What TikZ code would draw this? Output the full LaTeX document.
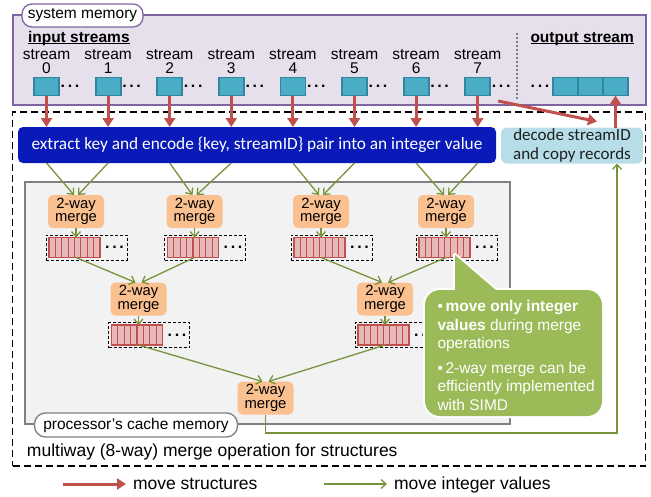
\documentclass[tikz,border=0pt]{standalone}
\usepackage{fontspec}
\setmainfont{Liberation Sans}
\newfontfamily\calibfont{Carlito}
\usetikzlibrary{arrows.meta,calc}

\definecolor{memfill}{HTML}{E5E0EC}
\definecolor{memline}{HTML}{8064A2}
\definecolor{strfill}{HTML}{4BACC6}
\definecolor{strline}{HTML}{31859C}
\definecolor{redarr}{HTML}{C0504D}
\definecolor{greenarr}{HTML}{77933C}
\definecolor{bluebar}{HTML}{0A1AB8}
\definecolor{decfill}{HTML}{B7DEE8}
\definecolor{mergefill}{HTML}{FAC090}
\definecolor{cellfill}{HTML}{E6B9B8}
\definecolor{cachefill}{HTML}{F2F2F2}
\definecolor{cacheline}{HTML}{808080}
\definecolor{callfill}{HTML}{9BBB59}

\newcommand\fsz[2]{\fontsize{#1}{#2}\selectfont}
\newcommand\tridots{\textbf{.\hspace{2.6pt}.\hspace{2.6pt}.}}
\newcommand\ulbold[1]{\setbox0=\hbox{\bfseries #1}\rlap{\rule[-1.8pt]{\wd0}{1.1pt}}\box0}

\tikzset{
  every node/.style={inner sep=0pt, outer sep=0pt},
  structarrow/.style={draw=redarr, line width=3pt, -{Triangle[length=9pt,width=11pt]}},
  intarrow/.style={draw=greenarr, line width=1.3pt, -{Straight Barb[length=5pt,width=9pt,line width=1.3pt]}},
  memframe/.style={draw=memline, fill=memfill, line width=1.5pt},
  memlabel/.style={draw=memline, fill=white, line width=1.3pt, rounded corners=10pt, font=\fsz{15.5}{15.5}},
  streamcell/.style={draw=strline, fill=strfill, line width=1.8pt, minimum width=25pt, minimum height=18pt},
  streamlabel/.style={align=center, anchor=north, font=\fsz{15.5}{14}},
  dotsnode/.style={font=\fsz{16}{16}},
  heading/.style={anchor=base west, font=\fsz{15.5}{15.5}},
  sepline/.style={draw=gray, line width=1.2pt, dash pattern=on 1.5pt off 2.5pt},
  bigframe/.style={draw=black, line width=1.6pt, dash pattern=on 7pt off 4pt},
  encodebar/.style={fill=bluebar, rounded corners=5pt, text=white, font=\calibfont\fsz{17.3}{20}},
  decodebox/.style={fill=decfill, rounded corners=6pt, text=black!88, align=center, font=\calibfont\fsz{17}{18.5}},
  cachebox/.style={draw=cacheline, fill=cachefill, line width=1.8pt},
  cachelabel/.style={draw=cacheline, fill=white, line width=1.3pt, rounded corners=11pt, font=\fsz{15.5}{15.5}},
  mergebox/.style={fill=mergefill, rounded corners=5pt, minimum width=56pt, minimum height=33pt, align=center, font=\fsz{14.8}{13.6}},
  bufbox/.style={draw=black, line width=0.8pt, dash pattern=on 3pt off 2pt, minimum width=81pt, minimum height=25pt},
  cellstrip/.style={draw=redarr, fill=cellfill, line width=1.2pt, minimum width=51pt, minimum height=20pt},
  cellsep/.style={draw=redarr, line width=1.2pt},
  callshape/.style={fill=callfill},
  callrim/.style={draw=white, line width=4pt, line join=round},
  callouttext/.style={anchor=north west, align=left, text=white, font=\fsz{15.5}{18.5}},
  plaintext/.style={anchor=base west},
}

\begin{document}
\begin{tikzpicture}[x=1pt, y=-1pt]
\useasboundingbox (0,0) rectangle (651,496);

% system memory with the input and output streams
\node[memframe, minimum width=633pt, minimum height=90pt] (sysmem) at (329.5,60) {};
\node[memlabel, minimum width=121pt, minimum height=23pt] (syslbl) at (82.5,15.5) {system memory};
\node[heading] (instr) at (28,42) {\ulbold{input streams}};
\node[heading] (outstr) at (530.5,42) {\ulbold{output stream}};
\draw[sepline] (517,33) -- (517,100);

% the merge operation frame
\node[bigframe, minimum width=633pt, minimum height=354pt] (frame) at (329,289) {};

\foreach \i in {0,...,7}{
  \node[streamcell] (s\i) at ({46.5+61.6*\i},86.5) {};
  \node[streamlabel] (sl\i) at ({46.5+61.6*\i},49.5) {stream\\\i};
  \node[dotsnode] (sd\i) at ({70+61.6*\i},86) {\tridots};
}

\node[dotsnode] (od) at (540,86) {\tridots};
\node[streamcell] (o1) at (565.5,86.5) {};
\node[streamcell] (o2) at (590.5,86.5) {};
\node[streamcell] (o3) at (615.5,86.5) {};

% encoding and decoding stages
\node[encodebar, minimum width=478pt, minimum height=36pt] (bar) at (257,145)
  {extract key and encode \{key, streamID\} pair into an integer value};
\node[decodebox, minimum width=142pt, minimum height=36pt] (dec) at (572,145.5)
  {decode streamID\\and copy records};

\foreach \i in {0,...,7}
  \draw[structarrow] (s\i.south) -- (s\i.south |- bar.north);

\coordinate (recstart) at ($(s7.south east)+(8,5.5)$);
\coordinate (recend) at ($(dec.north)+(25,-6)$);
\draw[structarrow] (recstart) -- (recend);
\draw[structarrow] (dec.north -| o3.south) -- (o3.south);

% cache area with the tree of 2-way merges
\node[cachebox, minimum width=485pt, minimum height=242pt] (cache) at (267.5,303.2) {};
\node[cachelabel, minimum width=203pt, minimum height=24pt] (cachelbl) at (136,425) {processor’s cache memory};

\node[mergebox] (mA) at (76,211.5) {2-way\\merge};
\node[mergebox] (mB) at (194.5,211.5) {2-way\\merge};
\node[mergebox] (mC) at (321,211.5) {2-way\\merge};
\node[mergebox] (mD) at (446,211.5) {2-way\\merge};
\node[mergebox] (mE) at (138.5,299) {2-way\\merge};
\node[mergebox] (mF) at (385,299) {2-way\\merge};
\node[mergebox] (mG) at (265.5,398) {2-way\\merge};

\foreach \i/\m/\o in {0/mA/-2,1/mA/2,2/mB/-2,3/mB/2,4/mC/-2,5/mC/2,6/mD/-2,7/mD/2}
  \draw[intarrow] (s\i |- bar.south) -- ($(\m.north)+(\o,0)$);

\foreach \m in {mA,mB,mC,mD,mE,mF}{
  \node[bufbox] (\m-buf) at ($(\m.south)+(10.5,19.5)$) {};
  \node[cellstrip] (\m-strip) at ($(\m.south)+(-1.5,19.5)$) {};
  \foreach \k in {1,...,7}
    \draw[cellsep] ($(\m-strip.north west)+({\k*51/8},0)$) -- ($(\m-strip.south west)+({\k*51/8},0)$);
  \node[dotsnode] (\m-dots) at ($(\m.south)+(38.5,19.5)$) {\tridots};
  \draw[intarrow] (\m.south) -- (\m.south |- \m-strip.north);
}

\draw[intarrow] (mA.south |- mA-strip.south) -- ($(mE.north)+(-3,0)$);
\draw[intarrow] (mB.south |- mB-strip.south) -- ($(mE.north)+(3,0)$);
\draw[intarrow] (mC.south |- mC-strip.south) -- ($(mF.north)+(-3,0)$);
\draw[intarrow] (mD.south |- mD-strip.south) -- ($(mF.north)+(3,0)$);
\draw[intarrow] (mE.south |- mE-strip.south) -- ($(mG.north)+(-3,0)$);
\draw[intarrow] (mF.south |- mF-strip.south) -- ($(mG.north)+(3,0)$);

% callout with the remarks on integer merging
\path[callrim, rounded corners=15pt] (425,290) rectangle (602,416);
\path[callrim] (455,300) -- (455,255) -- (497,291) -- cycle;
\path[callshape, rounded corners=15pt] (425,290) rectangle (602,416);
\path[callshape] (455,300) -- (455,255) -- (497,291) -- (497,300) -- cycle;
\node[callouttext] (calltxt) at (437.5,300.5)
  {\textbullet\,\textbf{move only integer}\\\textbf{values} during merge\\operations\\[6pt]%
   \textbullet\,2-way merge can be\\efficiently implemented\\with SIMD};

% integer values return to the decoder
\coordinate (retcorner) at (617,433);
\draw[intarrow] (mG.south) -- (mG.south |- retcorner) -- (retcorner) -- (retcorner |- dec.south);

\node[plaintext, font=\fsz{17.5}{17.5}] (frametitle) at (27,456.5) {multiway (8-way) merge operation for structures};

% legend
\coordinate (lgRa) at (63,484);
\coordinate (lgRb) at (126,484);
\draw[structarrow] (lgRa) -- (lgRb);
\node[plaintext, font=\fsz{17.5}{17.5}] (lgRtxt) at (133,489) {move structures};
\coordinate (lgGa) at (324,484);
\coordinate (lgGb) at (387,484);
\draw[intarrow] (lgGa) -- (lgGb);
\node[plaintext, font=\fsz{17.5}{17.5}] (lgGtxt) at (394,489) {move integer values};
\end{tikzpicture}
\end{document}
